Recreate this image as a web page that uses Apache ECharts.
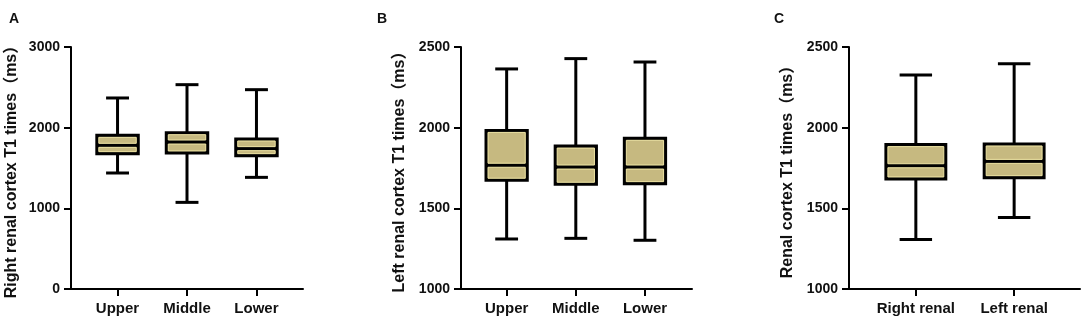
<!DOCTYPE html>
<html>
<head>
<meta charset="utf-8">
<script src="https://cdn.jsdelivr.net/npm/echarts@6/dist/echarts.min.js"></script>
<style>
  html, body { margin: 0; padding: 0; background: #fff; }
  #chart { width: 1084px; height: 329px; }
</style>
</head>
<body>
<div id="chart"></div>
<script>
// panel A - right renal
const catsA = ['Upper', 'Middle', 'Lower'];
const minA = [1438, 1074, 1384];
const q1A = [1678, 1686, 1653];
const medA = [1781, 1822, 1740];
const q3A = [1905, 1938, 1860];
const maxA = [2368, 2533, 2471];

// panel B - left renal
const catsB = ['Upper', 'Middle', 'Lower'];
const minB = [1310, 1314, 1302];
const q1B = [1674, 1649, 1653];
const medB = [1767, 1756, 1756];
const q3B = [1983, 1886, 1934];
const maxB = [2364, 2428, 2407];

// panel C - both sides
const catsC = ['Right renal', 'Left renal'];
const minC = [1307, 1443];
const q1C = [1682, 1690];
const medC = [1764, 1791];
const q3C = [1895, 1899];
const maxC = [2326, 2396];

const FONT = "'Liberation Sans', Arial, 'Noto Sans CJK SC', sans-serif";
const FILL = '#C6B980';
const EDGE = '#F1E7A6';
const BOX_W = 0.64;
const CAP_W = 0.33;
const LW = 3;

function rows(mins, q1s, meds, q3s, maxs) {
  return mins.map((m, i) => [i, m, q1s[i], meds[i], q3s[i], maxs[i]]);
}

function renderBox(params, api) {
  const x = api.value(0);
  const pMin = api.coord([x, api.value(1)]);
  const pQ1 = api.coord([x, api.value(2)]);
  const pMed = api.coord([x, api.value(3)]);
  const pQ3 = api.coord([x, api.value(4)]);
  const pMax = api.coord([x, api.value(5)]);
  const bw = api.size([BOX_W, 0])[0];
  const cw = api.size([CAP_W, 0])[0];
  const cx = pMin[0];
  const h = LW / 2;
  const black = { stroke: '#000', lineWidth: LW, fill: null };
  return {
    type: 'group',
    children: [
      { type: 'line', shape: { x1: cx, y1: pMax[1], x2: cx, y2: pMin[1] }, style: black },
      { type: 'line', shape: { x1: cx - cw / 2, y1: pMax[1], x2: cx + cw / 2, y2: pMax[1] }, style: black },
      { type: 'line', shape: { x1: cx - cw / 2, y1: pMin[1], x2: cx + cw / 2, y2: pMin[1] }, style: black },
      { type: 'rect', shape: { x: cx - bw / 2, y: pQ3[1] - h, width: bw, height: pQ1[1] - pQ3[1] + LW },
        style: { fill: '#000' } },
      { type: 'rect', shape: { x: cx - bw / 2 + LW + 0.5, y: pQ3[1] + h + 0.5, width: bw - 2 * LW - 1, height: pMed[1] - pQ3[1] - LW - 1 },
        style: { fill: FILL, stroke: EDGE, lineWidth: 1 } },
      { type: 'rect', shape: { x: cx - bw / 2 + LW + 0.5, y: pMed[1] + h + 0.5, width: bw - 2 * LW - 1, height: pQ1[1] - pMed[1] - LW - 1 },
        style: { fill: FILL, stroke: EDGE, lineWidth: 1 } }
    ]
  };
}

function xAxisOf(idx, cats, min, max) {
  const ticks = cats.map((c, i) => i);
  return {
    gridIndex: idx, type: 'value', min: min, max: max,
    axisLine: { onZero: false, lineStyle: { color: '#000', width: 2 } },
    axisTick: { length: 7, customValues: ticks, lineStyle: { color: '#000', width: 2 } },
    axisLabel: { customValues: ticks, margin: 12, formatter: v => cats[Math.round(v)],
      color: '#111', fontWeight: 'bold', fontSize: 15, fontFamily: FONT },
    splitLine: { show: false }
  };
}

function yAxisOf(idx, name, min, max, interval, gap) {
  return {
    gridIndex: idx, type: 'value', min: min, max: max, interval: interval,
    name: name, nameLocation: 'middle', nameGap: gap,
    nameTextStyle: { color: '#111', fontWeight: 'bold', fontSize: 16, fontFamily: FONT },
    axisLine: { show: true, onZero: false, lineStyle: { color: '#000', width: 2 } },
    axisTick: { show: true, length: 7, lineStyle: { color: '#000', width: 2 } },
    axisLabel: { margin: 11, formatter: v => String(v), color: '#111', fontWeight: 'bold', fontSize: 14, fontFamily: FONT },
    splitLine: { show: false }
  };
}

const letter = (t, x) => ({ text: t, left: x, top: 7,
  textStyle: { fontSize: 14, fontWeight: 'bold', color: '#111', fontFamily: FONT } });

const chart = echarts.init(document.getElementById('chart'));
chart.setOption({
  animation: false,
  title: [letter('A', 4), letter('B', 372), letter('C', 769)],
  grid: [
    { left: 71, top: 47, width: 232, height: 242 },
    { left: 461, top: 47, width: 231, height: 242 },
    { left: 849, top: 47, width: 231, height: 242 }
  ],
  xAxis: [
    xAxisOf(0, catsA, -0.67, 2.67),
    xAxisOf(1, catsB, -0.66, 2.68),
    xAxisOf(2, catsC, -0.68, 1.67)
  ],
  yAxis: [
    yAxisOf(0, 'Right renal cortex T1 times（ms）', 0, 3000, 1000, 51),
    yAxisOf(1, 'Left renal cortex T1 times（ms）', 1000, 2500, 500, 53),
    yAxisOf(2, 'Renal cortex T1 times（ms）', 1000, 2500, 500, 53)
  ],
  series: [
    { type: 'custom', xAxisIndex: 0, yAxisIndex: 0, clip: false, renderItem: renderBox,
      data: rows(minA, q1A, medA, q3A, maxA) },
    { type: 'custom', xAxisIndex: 1, yAxisIndex: 1, clip: false, renderItem: renderBox,
      data: rows(minB, q1B, medB, q3B, maxB) },
    { type: 'custom', xAxisIndex: 2, yAxisIndex: 2, clip: false, renderItem: renderBox,
      data: rows(minC, q1C, medC, q3C, maxC) }
  ]
});
</script>
</body>
</html>
